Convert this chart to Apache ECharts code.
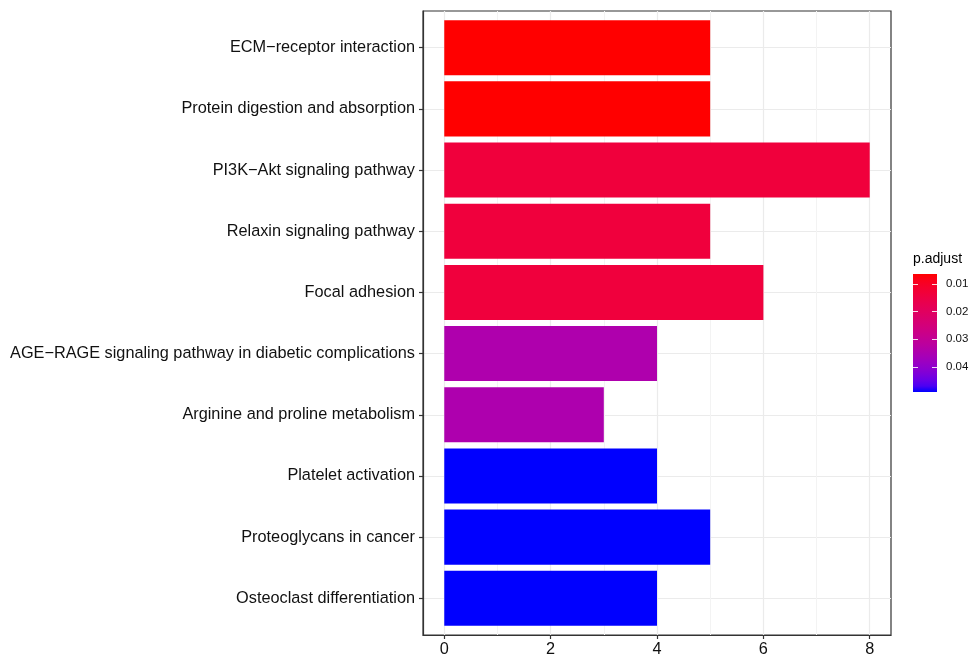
<!DOCTYPE html>
<html>
<head>
<meta charset="utf-8">
<title>KEGG enrichment</title>
<script src="https://cdn.jsdelivr.net/npm/echarts@6/dist/echarts.min.js"></script>
<style>
  html, body { margin: 0; padding: 0; background: #fff; }
  #chart { width: 972px; height: 662px; }
</style>
</head>
<body>
<div id="chart"></div>
<script>
// Enriched pathways, listed top to bottom
const pathways = [
  'ECM\u2212receptor interaction',
  'Protein digestion and absorption',
  'PI3K\u2212Akt signaling pathway',
  'Relaxin signaling pathway',
  'Focal adhesion',
  'AGE\u2212RAGE signaling pathway in diabetic complications',
  'Arginine and proline metabolism',
  'Platelet activation',
  'Proteoglycans in cancer',
  'Osteoclast differentiation'
];
// Gene count per pathway
const counts = [5, 5, 8, 5, 6, 4, 3, 4, 5, 4];
// Adjusted p-values per pathway
const pAdjust = [0.0064, 0.0064, 0.0136, 0.0137, 0.0138, 0.0345, 0.0346, 0.0491, 0.0491, 0.0491];
// Tick labels
const xTicks = [0, 2, 4, 6, 8];
const xMinor = [1, 3, 5, 7];
const legendTicks = [0.01, 0.02, 0.03, 0.04];

const pMin = Math.min(...pAdjust);
const pMax = Math.max(...pAdjust);

// red -> blue gradient interpolated in CIE Lab
function srgbToLab(rgb) {
  const lin = rgb.map(c => { c /= 255; return c <= 0.04045 ? c / 12.92 : Math.pow((c + 0.055) / 1.055, 2.4); });
  const X = (0.4124564 * lin[0] + 0.3575761 * lin[1] + 0.1804375 * lin[2]) / 0.95047;
  const Y = 0.2126729 * lin[0] + 0.7151522 * lin[1] + 0.0721750 * lin[2];
  const Z = (0.0193339 * lin[0] + 0.1191920 * lin[1] + 0.9503041 * lin[2]) / 1.08883;
  const f = t => t > Math.pow(6 / 29, 3) ? Math.cbrt(t) : t / (3 * Math.pow(6 / 29, 2)) + 4 / 29;
  return [116 * f(Y) - 16, 500 * (f(X) - f(Y)), 200 * (f(Y) - f(Z))];
}
function labToHex(lab) {
  const fy = (lab[0] + 16) / 116, fx = fy + lab[1] / 500, fz = fy - lab[2] / 200;
  const fi = t => t > 6 / 29 ? t * t * t : 3 * Math.pow(6 / 29, 2) * (t - 4 / 29);
  const X = 0.95047 * fi(fx), Y = fi(fy), Z = 1.08883 * fi(fz);
  const lin = [
    3.2404542 * X - 1.5371385 * Y - 0.4985314 * Z,
    -0.9692660 * X + 1.8760108 * Y + 0.0415560 * Z,
    0.0556434 * X - 0.2040259 * Y + 1.0572252 * Z
  ];
  return '#' + lin.map(c => {
    c = c <= 0.0031308 ? 12.92 * c : 1.055 * Math.pow(c, 1 / 2.4) - 0.055;
    c = Math.round(Math.min(1, Math.max(0, c)) * 255);
    return (c < 16 ? '0' : '') + c.toString(16);
  }).join('');
}
const labLow = srgbToLab([255, 0, 0]);
const labHigh = srgbToLab([0, 0, 255]);
function colorAt(t) {
  t = Math.min(1, Math.max(0, t));
  return labToHex(labLow.map((v, i) => v + (labHigh[i] - v) * t));
}
function pColor(p) { return colorAt((p - pMin) / (pMax - pMin)); }

const barData = pathways.map((name, i) => [counts[i], i + 1, pAdjust[i]]);
const gradientStops = [];
for (let k = 0; k <= 20; k++) gradientStops.push({ offset: k / 20, color: colorAt(k / 20) });

const fontFamily = 'Liberation Sans, Arial, Helvetica, sans-serif';
const chart = echarts.init(document.getElementById('chart'));

const legendTick = { show: true, inside: true, customValues: legendTicks, length: 5, lineStyle: { color: 'rgba(255,255,255,0.85)', width: 1 } };

chart.setOption({
  animation: false,
  backgroundColor: '#ffffff',
  title: {
    text: 'p.adjust',
    left: 913, top: 252, padding: 0,
    textStyle: { fontSize: 14, fontWeight: 'normal', color: '#000', fontFamily }
  },
  grid: [
    { left: 423, top: 11, width: 468, height: 624, show: true, borderColor: '#333', borderWidth: 1.2, backgroundColor: '#fff' },
    { left: 913, top: 274, width: 24, height: 118 }
  ],
  xAxis: [
    {
      gridIndex: 0, type: 'value', min: -0.4, max: 8.4, position: 'bottom',
      axisLine: { show: true, onZero: false, lineStyle: { color: '#333', width: 1.2 } },
      axisTick: { show: true, customValues: xTicks, length: 4, lineStyle: { color: '#333', width: 1.2 } },
      axisLabel: { customValues: xTicks, fontSize: 16.3, color: '#111', margin: 7, fontFamily },
      splitLine: { show: true, lineStyle: { color: '#EBEBEB', width: 1.2 } }
    },
    {
      gridIndex: 0, type: 'value', min: -0.4, max: 8.4, position: 'bottom',
      axisLine: { show: false, onZero: false },
      axisTick: { show: false, customValues: xMinor },
      axisLabel: { show: false, customValues: xMinor },
      splitLine: { show: true, lineStyle: { color: '#F3F3F3', width: 1 } }
    },
    {
      gridIndex: 1, type: 'value', min: 0, max: 1, show: false
    }
  ],
  yAxis: [
    {
      gridIndex: 0, type: 'value', min: 0.4, max: 10.6, inverse: true, position: 'left',
      axisLine: { show: true, onZero: false, lineStyle: { color: '#333', width: 1.2 } },
      axisTick: { show: true, customValues: pathways.map((_, i) => i + 1), length: 4, lineStyle: { color: '#333', width: 1.2 } },
      axisLabel: {
        customValues: pathways.map((_, i) => i + 1),
        formatter: v => pathways[Math.round(v) - 1],
        fontSize: 16.3, color: '#111', margin: 8, fontFamily
      },
      splitLine: { show: true, lineStyle: { color: '#EBEBEB', width: 1.2 } }
    },
    {
      gridIndex: 1, type: 'value', min: pMin, max: pMax, inverse: true, position: 'right', z: 5,
      axisLine: { show: false, onZero: false },
      axisTick: legendTick,
      axisLabel: { customValues: legendTicks, formatter: v => v.toFixed(2), fontSize: 11.5, color: '#111', margin: 9, fontFamily },
      splitLine: { show: false }
    },
    {
      gridIndex: 1, type: 'value', min: pMin, max: pMax, inverse: true, position: 'left', z: 5,
      axisLine: { show: false, onZero: false },
      axisTick: legendTick,
      axisLabel: { show: false, customValues: legendTicks },
      splitLine: { show: false }
    }
  ],
  series: [
    {
      type: 'custom',
      name: 'Count',
      xAxisIndex: 0, yAxisIndex: 0,
      data: barData,
      encode: { x: 0, y: 1 },
      z: 3,
      renderItem: (params, api) => {
        const v = api.value(0), y = api.value(1), p = api.value(2);
        const a = api.coord([0, y - 0.45]);
        const b = api.coord([v, y + 0.45]);
        return {
          type: 'rect',
          shape: { x: a[0], y: Math.min(a[1], b[1]), width: b[0] - a[0], height: Math.abs(b[1] - a[1]) },
          style: { fill: pColor(p) }
        };
      }
    },
    {
      type: 'custom',
      name: 'p.adjust scale',
      xAxisIndex: 2, yAxisIndex: 1,
      data: [[0, pMin, 1, pMax]],
      z: 1,
      silent: true,
      renderItem: (params, api) => {
        const a = api.coord([api.value(0), api.value(1)]);
        const b = api.coord([api.value(2), api.value(3)]);
        return {
          type: 'rect',
          shape: { x: a[0], y: a[1], width: b[0] - a[0], height: b[1] - a[1] },
          style: { fill: new echarts.graphic.LinearGradient(0, 0, 0, 1, gradientStops) }
        };
      }
    }
  ]
});
</script>
</body>
</html>
